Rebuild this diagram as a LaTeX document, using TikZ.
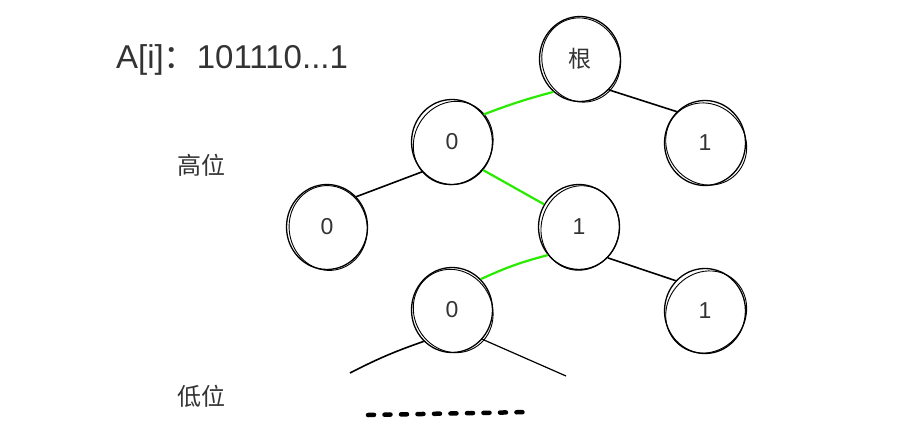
\documentclass[tikz,border=0pt]{standalone}
\usepackage{fontspec}
\usetikzlibrary{shapes.geometric}
\setmainfont{Liberation Sans}
\newfontfamily\cjk{Noto Sans CJK SC}
\definecolor{hotgreen}{RGB}{40,235,0}
\begin{document}
\begin{tikzpicture}[x=1pt,y=-1pt,
  tnode/.style={ellipse,draw=black,line width=1.3pt,minimum width=81pt,minimum height=85pt,inner sep=0pt,
    text=black!80,font=\fontsize{23}{23}\selectfont},
  edge/.style={line width=1.6pt,draw=black},
  hot/.style={line width=2.2pt,draw=hotgreen},
  lbl/.style={text=black!80,inner sep=0pt}]
\useasboundingbox (0,0) rectangle (900,434);
\node[tnode] (r) at (580,59) {\cjk 根};
\node[tnode] (a) at (452,142) {0};
\node[tnode] (b) at (705,143) {1};
\node[tnode] (c) at (327,227) {0};
\node[tnode] (d) at (579,227) {1};
\node[tnode] (e) at (452,310) {0};
\node[tnode] (f) at (705,311) {1};
\foreach \n/\ang in {r/20,a/-30,b/40,c/10,d/-15,e/30,f/-40}{
  \draw[line width=0.9pt] ([shift={(1.2,1)}]\n.center) ellipse [x radius=39, y radius=42.5, rotate=\ang];
}
\draw[hot] (a.41) to[bend left=3] (r.231);
\draw[edge] (r.-47) -- (b.132);
\draw[edge] (a.225) -- (c.46);
\draw[hot] (a.-42) -- (d.147);
\draw[hot] (e.47) to[bend left=5] (d.222);
\draw[edge] (d.-47) -- (f.134);
\coordinate (fl) at (350,373);
\coordinate (fr) at (566,376);
\draw[edge] (e.228) to[bend right=4] (fl);
\draw[edge,line width=1.2pt] (e.-44) -- (fr);
\coordinate (d1) at (368,415);
\coordinate (d2) at (530,412);
\draw[line width=4.5pt,line cap=round,dash pattern=on 6pt off 10.5pt] (d1) -- (d2);
\node[lbl,anchor=west,font=\fontsize{33}{33}\selectfont] (t) at (116,60) {A[i]\cjk ：\rmfamily 101110...1};
\node[lbl,anchor=west,font=\cjk\fontsize{24}{24}\selectfont] (h) at (177,165) {高位};
\node[lbl,anchor=west,font=\cjk\fontsize{24}{24}\selectfont] (l) at (177,396) {低位};
\end{tikzpicture}
\end{document}
